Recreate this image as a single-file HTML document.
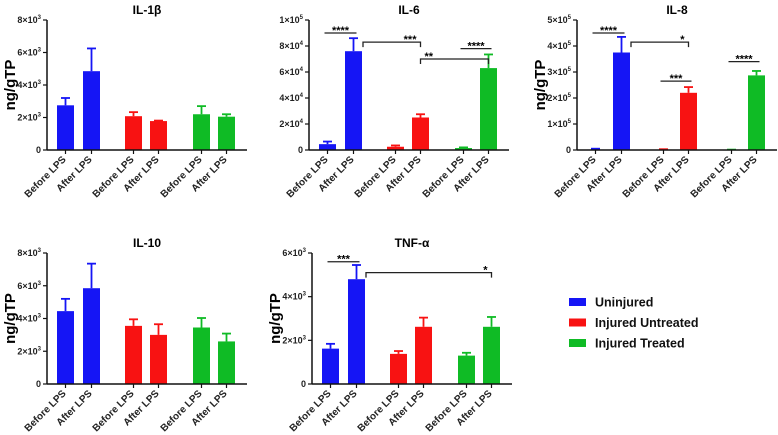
<!DOCTYPE html>
<html><head><meta charset="utf-8">
<style>
body{margin:0;background:#fff;}
svg{display:block;font-family:"Liberation Sans",Arial,sans-serif;}
</style></head>
<body>
<svg id="chart" width="778" height="435" viewBox="0 0 778 435"></svg>
<script>
const categories = ["Before LPS","After LPS","Before LPS","After LPS","Before LPS","After LPS"];
const groups = ["Uninjured","Uninjured","Injured Untreated","Injured Untreated","Injured Treated","Injured Treated"];
const il1bMeans = [2750,4850,2080,1780,2200,2050];
const il1bErr = [450,1400,250,30,500,150];
const il6Means = [4500,76000,2500,25000,1500,63000];
const il6Err = [2000,10000,1000,2500,500,10500];
const il8Means = [2000,375000,2000,220000,1000,287000];
const il8Err = [3000,60000,1000,22000,500,17000];
const il10Means = [4450,5850,3550,3000,3450,2600];
const il10Err = [750,1500,400,650,580,480];
const tnfMeans = [1620,4800,1380,2620,1300,2620];
const tnfErr = [220,650,130,420,130,450];
const il1bTicks = [0,2000,4000,6000,8000];
const il6Ticks = [0,20000,40000,60000,80000,100000];
const il8Ticks = [0,100000,200000,300000,400000,500000];
const il10Ticks = [0,2000,4000,6000,8000];
const tnfTicks = [0,2000,4000,6000];
// significance: [fromBar, toBar, value, label, style, labelSide]
const il6Sig = [[0,1,90000,"****","line","mid"],[1,3,83000,"***","bracket","right"],[3,5,70000,"**","bracketc","left"],[4,5,78000,"****","line","mid"]];
const il8Sig = [[0,1,450000,"****","line","mid"],[1,3,415000,"*","bracket","right"],[2,3,265000,"***","line","mid"],[4,5,340000,"****","line","mid"]];
const tnfSig = [[0,1,5600,"***","line","mid"],[1,5,5100,"*","bracket","right"]];
const legendLabels = ["Uninjured","Injured Untreated","Injured Treated"];
const colors = {"Uninjured":"#1515f5","Injured Untreated":"#f81212","Injured Treated":"#0fbb25"};

const NS="http://www.w3.org/2000/svg";
const svg=document.getElementById('chart');
function mk(tag,attrs,parent){const e=document.createElementNS(NS,tag);for(const k in attrs)e.setAttribute(k,attrs[k]);(parent||svg).appendChild(e);return e;}
const barOff=[10,36,78,103,146,171];
const barW=17;

function fmtTick(g,v,x,y){
  const t=mk('text',{x:x,y:y,'text-anchor':'end','font-size':'9','font-weight':'bold',fill:'#222'},g);
  if(v===0){t.textContent='0';return t;}
  const exp=Math.floor(Math.log10(v)+1e-9);const m=Math.round(v/Math.pow(10,exp));
  const a=document.createElementNS(NS,'tspan');a.textContent=m+'×10';t.appendChild(a);
  const b=document.createElementNS(NS,'tspan');b.setAttribute('dy','-4');b.setAttribute('font-size','6');b.textContent=exp;t.appendChild(b);
  return t;
}

function panel(name,title,ax,top,zero,means,errs,ticks,sig,showY){
  const g=mk('g',{});
  
  
  const max=ticks[ticks.length-1];
  const ys=v=>zero-(v/max)*(zero-top);
  const xc=i=>ax+barOff[i]+barW/2;
  const tt=mk('text',{x:ax+100,y:top-6,'text-anchor':'middle','font-size':'12','font-weight':'bold'},g);
  tt.textContent=title;
  
  
  if(showY){
    const yl=mk('text',{x:0,y:0,transform:`translate(${ax-32},${(top+zero)/2}) rotate(-90)`,'text-anchor':'middle','font-size':'15','font-weight':'bold'},g);
    yl.textContent='ng/gTP';
    
    
  }
  means.forEach((v,i)=>{
    const c=colors[groups[i]];
    const yt=ys(v), ye=ys(v+errs[i]);
    mk('line',{x1:xc(i),x2:xc(i),y1:yt,y2:ye,stroke:c,'stroke-width':1.8},g);
    mk('line',{x1:xc(i)-4.5,x2:xc(i)+4.5,y1:ye,y2:ye,stroke:c,'stroke-width':1.8},g);
    const r=mk('rect',{x:ax+barOff[i],y:yt,width:barW,height:Math.max(zero-yt,0.8),fill:c},g);
    
    
    const lx=xc(i)+1, ly=zero+10;
    const lt=mk('text',{x:lx,y:ly,transform:`rotate(-45 ${lx} ${ly})`,'text-anchor':'end','font-size':'10','font-weight':'bold',fill:'#222'},g);
    lt.textContent=categories[i];
    
    
  });
  mk('line',{x1:ax,x2:ax,y1:top,y2:zero,stroke:'#111','stroke-width':1.5},g);
  mk('line',{x1:ax,x2:ax+200,y1:zero,y2:zero,stroke:'#111','stroke-width':1.5},g);
  ticks.forEach(v=>{
    const y=ys(v);
    mk('line',{x1:ax-4,x2:ax,y1:y,y2:y,stroke:'#111','stroke-width':1.2},g);
    const t=fmtTick(g,v,ax-6,y+3);
    
    
  });
  for(let i=0;i<6;i++) mk('line',{x1:xc(i),x2:xc(i),y1:zero,y2:zero+4,stroke:'#111','stroke-width':1.2},g);
  (sig||[]).forEach(s=>{
    const y=ys(s[2]);
    let x1,x2;
    if(s[4]==='line'){x1=xc(s[0])-3;x2=xc(s[1])+3;mk('line',{x1:x1,x2:x2,y1:y,y2:y,stroke:'#222','stroke-width':1.3},g);}
    else{x1=s[4]==='bracketc'?xc(s[0]):ax+barOff[s[0]]+barW+1;x2=xc(s[1]);
      mk('polyline',{points:`${x1},${y+5} ${x1},${y} ${x2},${y} ${x2},${y+5}`,fill:'none',stroke:'#222','stroke-width':1.3},g);}
    let tx,anc;
    if(s[5]==='mid'){tx=(x1+x2)/2;anc='middle';}
    else if(s[5]==='left'){tx=x1+4;anc='start';}
    else {tx=x2-4;anc='end';}
    const st=mk('text',{x:tx,y:y+1,'text-anchor':anc,'font-size':'11','font-weight':'bold'},g);
    st.textContent=s[3];
    
    
  });
}
panel('il1b','IL-1β',47,20,150,il1bMeans,il1bErr,il1bTicks,null,true);
panel('il6','IL-6',309,20,150,il6Means,il6Err,il6Ticks,il6Sig,false);
panel('il8','IL-8',577,20,150,il8Means,il8Err,il8Ticks,il8Sig,true);
panel('il10','IL-10',47,253,384,il10Means,il10Err,il10Ticks,null,true);
panel('tnf','TNF-α',312,253,384,tnfMeans,tnfErr,tnfTicks,tnfSig,true);

const lg=mk('g',{});


legendLabels.forEach((l,i)=>{
  const y=298+i*20.5;
  const r=mk('rect',{x:569,y:y,width:17,height:8,fill:colors[l]},lg);
  
  
  const t=mk('text',{x:595,y:y+8.5,'font-size':'12.5','font-weight':'bold',fill:'#111'},lg);
  t.textContent=l;
  
  
});
</script>
</body></html>
